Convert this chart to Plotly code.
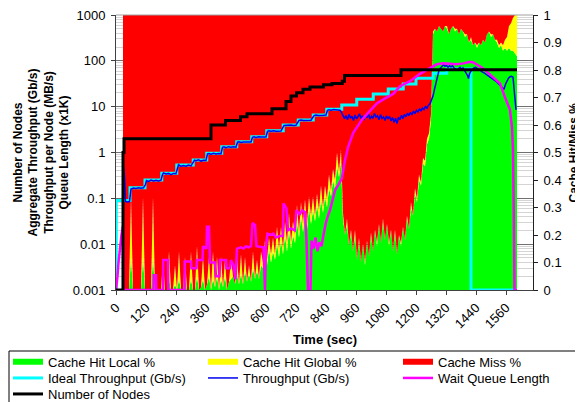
import plotly.graph_objects as go

# ---------------- data ----------------
# cache statistics sampled every 8 s starting at t = 28 s (fractions, right axis)
AREA_T = list(range(28, 1605, 8))
CACHE_LOCAL = [
    0, 0, 0, 0, 0.12, 0, 0, 0, 0, 0,
    0.12, 0, 0, 0, 0, 0.12, 0, 0, 0, 0,
    0.03, 0, 0, 0.04, 0, 0, 0.02, 0, 0.04, 0,
    0, 0.04, 0, 0, 0.04, 0, 0, 0.05, 0, 0.01,
    0.04, 0, 0.02, 0.05, 0, 0.04, 0.01, 0.05, 0, 0.04,
    0.01, 0.05, 0, 0.03, 0.04, 0.05, 0.02, 0.06, 0.02, 0.06,
    0.02, 0.07, 0.03, 0.06, 0.03, 0.08, 0.04, 0.07, 0.04, 0.09,
    0.08, 0.13, 0.09, 0.15, 0.1, 0.14, 0.11, 0.17, 0.12, 0.18,
    0.13, 0.2, 0.14, 0.22, 0.15, 0.2, 0.17, 0.25, 0.19, 0.27,
    0.21, 0.28, 0.22, 0.3, 0.24, 0.29, 0.25, 0.31, 0.26, 0.33,
    0.28, 0.34, 0.3, 0.37, 0.34, 0.4, 0.37, 0.45, 0.41, 0.47,
    0.26, 0.2, 0.24, 0.16, 0.21, 0.14, 0.2, 0.11, 0.18, 0.1,
    0.17, 0.09, 0.18, 0.12, 0.2, 0.14, 0.22, 0.16, 0.24, 0.17,
    0.25, 0.18, 0.24, 0.16, 0.22, 0.14, 0.21, 0.13, 0.2, 0.16,
    0.23, 0.18, 0.26, 0.22, 0.3, 0.27, 0.35, 0.32, 0.4, 0.38,
    0.46, 0.45, 0.53, 0.55, 0.62, 0.93, 0.95, 0.94, 0.96, 0.95,
    0.94, 0.96, 0.95, 0.93, 0.95, 0.96, 0.94, 0.95, 0.93, 0.95,
    0.94, 0.92, 0.93, 0.9, 0.91, 0.89, 0.9, 0.88, 0.9, 0.89,
    0.91, 0.9, 0.93, 0.94, 0.92, 0.93, 0.91, 0.9, 0.88, 0.89,
    0.87, 0.88, 0.87, 0.88, 0.87, 0.87, 0.86, 0.85,
]
CACHE_GLOBAL = [
    0, 0, 0, 0, 0.22, 0, 0, 0, 0, 0,
    0.22, 0, 0, 0, 0, 0.22, 0, 0, 0, 0,
    0.08, 0, 0, 0.1, 0, 0, 0.07, 0, 0.1, 0,
    0, 0.08, 0, 0, 0.1, 0, 0, 0.11, 0, 0,
    0.08, 0, 0, 0.07, 0, 0.1, 0, 0.07, 0, 0.08,
    0, 0.06, 0, 0, 0.07, 0, 0, 0.06, 0, 0.07,
    0, 0.05, 0, 0.03, 0, 0.06, 0, 0.04, 0, 0.05,
    0.02, 0.05, 0.02, 0.04, 0.03, 0.05, 0.02, 0.06, 0.03, 0.05,
    0.02, 0.05, 0.03, 0.06, 0.02, 0.05, 0.03, 0.06, 0.02, 0.05,
    0.03, 0.05, 0.02, 0.04, 0.03, 0.05, 0.02, 0.04, 0.03, 0.05,
    0.02, 0.04, 0.03, 0.05, 0.02, 0.04, 0.03, 0.05, 0.02, 0.04,
    0.02, 0, 0.02, 0, 0.01, 0, 0.02, 0, 0.01, 0,
    0, 0.01, 0, 0, 0.01, 0, 0, 0.01, 0, 0,
    0.01, 0, 0, 0.01, 0, 0, 0.01, 0, 0, 0.01,
    0, 0, 0.01, 0, 0.02, 0, 0.02, 0.01, 0.02, 0.01,
    0.02, 0.02, 0.02, 0.02, 0.02, 0.01, 0, 0, 0, 0,
    0, 0, 0.01, 0, 0, 0, 0.01, 0, 0, 0,
    0, 0.01, 0, 0, 0.01, 0, 0, 0.01, 0, 0,
    0, 0, 0, 0, 0.01, 0, 0, 0.01, 0.01, 0.01,
    0.02, 0.03, 0.05, 0.08, 0.1, 0.12, 0.14, 0.15,
]
CACHE_MISS = [max(0.0, 1 - a - b) for a, b in zip(CACHE_LOCAL, CACHE_GLOBAL)]

# ideal aggregate throughput (Gb/s), step function
IDEAL_T = [0, 1, 56, 116, 183, 243, 309, 363, 423, 483, 543, 603, 669, 729,
           789, 843, 903, 963, 1029, 1089, 1149, 1200, 1269, 1323, 1420, 1604]
IDEAL_V = [0, 0.09, 0.171, 0.251, 0.352, 0.534, 0.687, 0.96, 1.34, 1.72, 2.21,
           2.99, 3.98, 5.12, 6.58, 8.75, 10.9, 14.5, 18.9, 24.3, 31.3, 41.6,
           53.5, 66, 0, 0]

# measured aggregate throughput (Gb/s)
THRU_T = [28, 30, 34, 38, 46, 54, 60, 70, 80, 90, 100, 110, 118, 122, 130, 140,
          150, 160, 170, 180, 186, 190, 200, 210, 220, 230, 240, 246, 250, 260,
          270, 280, 290, 300, 310, 314, 320, 330, 340, 350, 360, 366, 372, 380,
          390, 400, 410, 420, 426, 432, 440, 450, 460, 470, 480, 486, 492, 500,
          510, 520, 530, 540, 546, 552, 560, 570, 580, 590, 600, 606, 612, 620,
          630, 640, 650, 660, 672, 680, 690, 700, 710, 720, 732, 740, 750, 760,
          770, 780, 792, 800, 810, 820, 830, 840, 846, 852, 860, 870, 880, 890,
          896, 902, 908, 914, 920, 926, 932, 938, 944, 950, 956, 962, 968, 974,
          980, 986, 992, 998, 1004, 1010, 1016, 1022, 1028, 1034, 1040, 1046,
          1052, 1058, 1064, 1070, 1076, 1082, 1088, 1094, 1100, 1106, 1112,
          1118, 1124, 1130, 1136, 1142, 1148, 1154, 1160, 1166, 1172, 1178,
          1184, 1190, 1196, 1202, 1208, 1214, 1220, 1226, 1232, 1238, 1244,
          1250, 1256, 1262, 1268, 1274, 1280, 1286, 1292, 1298, 1304, 1310,
          1316, 1322, 1328, 1334, 1340, 1346, 1352, 1358, 1364, 1370, 1376,
          1382, 1388, 1394, 1400, 1406, 1410, 1414, 1420, 1426, 1432, 1438,
          1444, 1450, 1456, 1462, 1468, 1474, 1480, 1486, 1492, 1498, 1504,
          1510, 1516, 1522, 1528, 1534, 1540, 1546, 1552, 1558, 1564, 1570,
          1576, 1582, 1588, 1594, 1600]
THRU_V = [0, 0.5, 0.3, 0.086, 0.083, 0.085, 0.16, 0.168, 0.165, 0.17, 0.166,
          0.17, 0.2, 0.245, 0.235, 0.25, 0.24, 0.248, 0.238, 0.25, 0.33, 0.36,
          0.34, 0.35, 0.33, 0.35, 0.345, 0.5, 0.54, 0.5, 0.52, 0.5, 0.53, 0.51,
          0.6, 0.68, 0.66, 0.69, 0.65, 0.68, 0.67, 0.93, 0.95, 0.92, 0.96, 0.93,
          0.95, 0.94, 1.3, 1.33, 1.28, 1.34, 1.3, 1.33, 1.31, 1.68, 1.72, 1.66,
          1.7, 1.68, 1.72, 1.69, 2.15, 2.2, 2.14, 2.2, 2.17, 2.21, 2.18, 2.9,
          2.98, 2.92, 2.97, 2.9, 2.96, 2.93, 3.9, 3.95, 3.88, 3.96, 3.9, 3.93,
          5.0, 5.1, 5.02, 5.1, 5.05, 5.08, 6.4, 6.55, 6.45, 6.6, 6.5, 6.55, 8.3,
          8.6, 8.4, 8.7, 8.5, 8.6, 8.4, 7.5, 6.3, 5.5, 6.4, 5.2, 6.8, 5.6, 6.2,
          5.0, 6.6, 5.4, 6.1, 7.0, 5.5, 6.3, 5.1, 6.5, 5.8, 6.9, 5.3, 6.2, 5.6,
          7.1, 5.9, 6.4, 5.2, 6.7, 5.5, 6.0, 5.0, 6.3, 5.4, 6.1, 4.9, 5.8, 4.5,
          5.6, 4.3, 5.9, 5.2, 6.5, 5.5, 6.8, 6.0, 7.2, 6.4, 7.5, 6.6, 8.0, 7.1,
          8.4, 7.6, 9.0, 8.0, 9.4, 8.6, 10.2, 9.2, 10.8, 11.5, 14, 17, 24, 33,
          48, 62, 70, 78, 82, 76, 80, 72, 78, 74, 79, 70, 66, 63, 68, 72, 66,
          70, 62, 56, 48, 41, 52, 60, 66, 70, 72, 68, 64, 61, 58, 56, 54, 50,
          48, 46, 44, 42, 40, 37, 35, 33, 30, 28, 26, 24, 31, 38, 42, 45, 46,
          44, 22, 8.5]

# wait queue length (x1K)
QUEUE_T = [0, 2, 6, 10, 14, 18, 22, 26, 28, 29, 150, 151, 160, 161, 188, 189,
           208, 209, 274, 275, 300, 302, 322, 324, 346, 348, 362, 364, 372, 376,
           396, 400, 414, 416, 440, 442, 456, 460, 470, 478, 484, 500, 510, 520,
           530, 540, 546, 556, 562, 580, 590, 596, 600, 606, 620, 630, 640, 655,
           668, 670, 682, 688, 700, 715, 722, 735, 745, 756, 762, 768, 778, 782,
           790, 798, 806, 814, 822, 830, 840, 850, 856, 866, 876, 890, 903, 916,
           929, 949, 969, 983, 1010, 1043, 1075, 1109, 1136, 1176, 1216, 1250,
           1283, 1309, 1340, 1363, 1390, 1416, 1430, 1450, 1469, 1500, 1523,
           1536, 1556, 1576, 1584, 1588, 1591, 1594, 1604]
QUEUE_V = [0, 0.0012, 0.002, 0.004, 0.007, 0.011, 0.016, 0.022, 0.025, 0, 0,
           0.0021, 0.0021, 0, 0, 0.0045, 0.0045, 0, 0, 0.0042, 0.0042, 0.003,
           0.003, 0.0045, 0.0045, 0.009, 0.008, 0.024, 0.024, 0.004, 0.004,
           0.002, 0.002, 0.0045, 0.0045, 0.003, 0.003, 0.0045, 0.0035, 0.0017,
           0.008, 0.0085, 0.008, 0.009, 0.0085, 0.009, 0.029, 0.026, 0.009,
           0.0087, 0.0085, 0, 0.0087, 0.017, 0.016, 0.017, 0.014, 0.015, 0.015,
           0.078, 0.06, 0.02, 0.022, 0.02, 0.055, 0.045, 0.055, 0.05, 0.012, 0,
           0, 0.012, 0.008, 0.014, 0.007, 0.011, 0.009, 0.016, 0.03, 0.045,
           0.055, 0.09, 0.15, 0.2, 0.27, 0.68, 1.34, 2.7, 4.0, 5.1, 7.5, 11.7,
           15, 19, 28, 36, 52, 66, 84, 88, 86, 84, 88, 95, 92, 80, 68, 48, 38,
           32, 16, 8.5, 3.5, 1.2, 0.05, 0, 0]

# number of nodes, step function
NODE_T = [0, 28, 32, 380, 438, 498, 524, 624, 680, 700, 722, 748, 776, 830,
          864, 905, 914, 1140, 1604]
NODE_V = [0, 1, 2, 4, 5, 6, 7, 9, 13, 17, 20, 24, 27, 30, 32, 36, 48, 64, 64]

X_TICKS = list(range(0, 1561, 120))
Y_LOG_TICKS = [0.001, 0.01, 0.1, 1, 10, 100, 1000]
Y_LOG_LABELS = ["0.001", "0.01", "0.1", "1", "10", "100", "1000"]

FLOOR = 0.001  # zero values drawn on the bottom of the log axis


def floor(vals):
    return [v if v > 0 else FLOOR for v in vals]


# ---------------- figure ----------------
# The page body has an 8 px default margin, so the figure is made 8 px
# smaller and all layout positions below are given in window pixels.
FONT = "Liberation Sans, Arial, sans-serif"
OFF = 8
WIN_W, WIN_H = 583, 402
W, H = WIN_W - OFF, WIN_H - OFF
X0, X1, Y0, Y1 = 116, 533, 15, 290          # plot area in window pixels
L, R, T, B = X0 - OFF, WIN_W - X1, Y0 - OFF, WIN_H - Y1
PW, PH = X1 - X0, Y1 - Y0


def px(xw):
    return (xw - X0) / PW


def py(yw):
    return (Y1 - yw) / PH


fig = go.Figure()

fig.add_trace(go.Scatter(x=AREA_T, y=CACHE_LOCAL, name="Cache Hit Local %",
                         stackgroup="c", mode="none", fillcolor="#00ff00",
                         legend="legend", yaxis="y"))
fig.add_trace(go.Scatter(x=AREA_T, y=CACHE_GLOBAL, name="Cache Hit Global %",
                         stackgroup="c", mode="none", fillcolor="#ffff00",
                         legend="legend2", yaxis="y"))
fig.add_trace(go.Scatter(x=AREA_T, y=CACHE_MISS, name="Cache Miss %",
                         stackgroup="c", mode="none", fillcolor="#ff0000",
                         legend="legend3", yaxis="y"))

fig.add_trace(go.Scatter(x=IDEAL_T, y=floor(IDEAL_V), name="Ideal Throughput (Gb/s)",
                         mode="lines", line=dict(color="#00ffff", width=3, shape="hv"),
                         legend="legend4", yaxis="y2"))
fig.add_trace(go.Scatter(x=THRU_T, y=floor(THRU_V), name="Throughput (Gb/s)",
                         mode="lines", line=dict(color="#0000f0", width=1.5),
                         legend="legend5", yaxis="y2"))
fig.add_trace(go.Scatter(x=QUEUE_T, y=floor(QUEUE_V), name="Wait Queue Length",
                         mode="lines", line=dict(color="#ff00ff", width=2.5),
                         legend="legend6", yaxis="y2"))
fig.add_trace(go.Scatter(x=NODE_T, y=floor(NODE_V), name="Number of Nodes",
                         mode="lines", line=dict(color="#000000", width=3, shape="hv"),
                         legend="legend7", yaxis="y2"))

leg = dict(orientation="h", xanchor="left", yanchor="middle", visible=True,
           bgcolor="rgba(0,0,0,0)", itemwidth=30,
           font=dict(family=FONT, size=13, color="black"))
COLS = [8, 203, 398]
ROWS = [361.7, 378, 394]
legends = {}
slots = [(0, 0), (1, 0), (2, 0), (0, 1), (1, 1), (2, 1), (0, 2)]
for k, (c, r) in enumerate(slots):
    key = "legend" if k == 0 else "legend%d" % (k + 1)
    legends[key] = dict(leg, x=px(COLS[c]), y=py(ROWS[r]))

fig.update_layout(
    width=W, height=H, showlegend=True,
    margin=dict(l=L, r=R, t=T, b=B, autoexpand=False),
    paper_bgcolor="white", plot_bgcolor="white",
    font=dict(family=FONT, size=13, color="black"),
    xaxis=dict(range=[0, 1668], tickvals=X_TICKS, tickangle=-45,
               ticks="outside", ticklen=4, tickcolor="#404040",
               showline=True, linecolor="#404040", showgrid=False,
               zeroline=False, ticklabeloverflow="allow"),
    yaxis=dict(range=[0, 1], side="right", dtick=0.1, tick0=0,
               ticks="outside", ticklen=4, tickcolor="#202020",
               showline=True, linecolor="#202020", showgrid=False,
               zeroline=False, ticklabelstandoff=3,
               ticklabeloverflow="allow"),
    yaxis2=dict(type="log", range=[-3, 3], overlaying="y", side="left",
                tickvals=Y_LOG_TICKS, ticktext=Y_LOG_LABELS,
                ticks="outside", ticklen=4, tickcolor="#404040",
                showline=True, linecolor="#404040",
                showgrid=True, gridcolor="#707070", gridwidth=1,
                minor=dict(dtick="D1", showgrid=True, gridcolor="#d4d4d4"),
                zeroline=False, ticklabelstandoff=3,
                ticklabeloverflow="allow"),
    annotations=[
        dict(text="<b>Number of Nodes<br>Aggregate Throughput (Gb/s)<br>"
                  "Throughput per Node (MB/s)<br>Queue Length (x1K)</b>",
             textangle=-90, xref="paper", yref="paper", x=px(41), y=0.5,
             xanchor="center", yanchor="middle", showarrow=False,
             font=dict(family=FONT, size=12, color="black")),
        dict(text="<b>Cache Hit/Miss %</b>", textangle=-90, xref="paper",
             yref="paper", x=px(573), y=0.5, xanchor="center",
             yanchor="middle", showarrow=False,
             font=dict(family=FONT, size=12, color="black")),
        dict(text="<b>Time (sec)</b>", xref="paper", yref="paper", x=0.5,
             y=py(339), xanchor="center", yanchor="middle", showarrow=False,
             font=dict(family=FONT, size=13, color="black")),
    ],
    shapes=[
        dict(type="rect", xref="paper", yref="paper", x0=px(9), x1=px(578),
             y0=py(351), y1=py(420), line=dict(color="black", width=1),
             fillcolor="rgba(0,0,0,0)"),
        dict(type="line", xref="paper", yref="paper", x0=0, x1=1, y0=1, y1=1,
             line=dict(color="#a0a0a0", width=1)),
    ],
    **legends,
)

fig.write_html("out.html")
